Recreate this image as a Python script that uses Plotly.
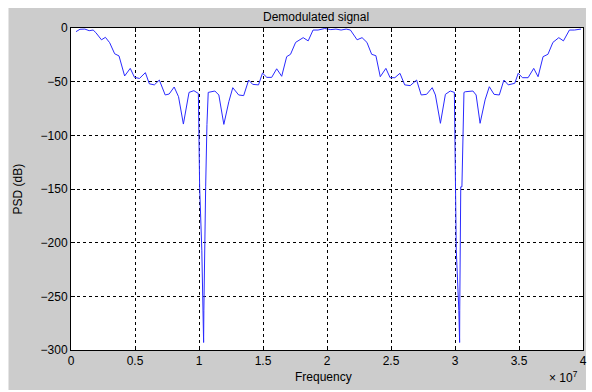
import plotly.graph_objects as go

# Frequency in MHz, PSD in dB
freq_mhz = [
    0.39, 0.70, 1.08, 1.42, 1.73, 1.94, 2.38, 2.69, 3.02, 3.41, 3.75, 4.19, 4.63, 4.96,
    5.35, 5.81, 6.12, 6.51, 6.90, 7.36, 7.67, 8.06, 8.40, 8.78, 9.22, 9.60, 9.95,
    10.05, 10.22, 10.33, 10.36, 10.38, 10.42, 10.52, 10.62, 10.68,
    10.72, 11.24, 11.55, 11.94, 12.33, 12.64, 13.10, 13.49, 13.88, 14.19, 14.65, 14.96,
    15.30, 15.68, 16.07, 16.46, 16.85, 17.15, 17.55, 18.14, 18.53, 18.91, 19.30, 19.82,
    20.30, 20.70, 21.10, 21.50, 21.83, 22.35, 22.74, 23.12, 23.49, 23.82, 24.16, 24.60,
    24.93, 25.30, 25.70, 26.07, 26.50, 27.00, 27.36, 27.78, 28.22, 28.47, 28.86, 29.25,
    29.63, 29.95,
    30.10, 30.30, 30.36, 30.37, 30.40, 30.45, 30.54, 30.62, 30.70,
    30.80, 31.40, 31.65, 31.96, 32.35, 32.68, 33.05, 33.46, 33.82, 34.16, 34.67, 34.94,
    35.27, 35.71, 36.15, 36.49, 36.88, 37.26, 37.65, 38.11, 38.47, 38.94, 39.33, 39.84,
]
psd_db = [
    -3.4, -1.2, -1.0, -2.5, -1.9, -4.3, -11.0, -8.7, -13.7, -24.0, -26.0, -44.7, -37.6, -46.0,
    -47.0, -41.6, -52.0, -53.0, -48.5, -62.4, -61.5, -55.0, -64.0, -89.5, -60.0, -58.4, -61.0,
    -148.0, -207.0, -263.0, -293.0, -263.0, -207.0, -148.0, -90.0, -60.0,
    -60.0, -58.7, -62.4, -89.8, -68.7, -55.6, -62.4, -63.0, -48.5, -52.5, -53.0, -42.0,
    -46.0, -46.0, -38.0, -45.0, -26.7, -24.5, -13.4, -9.0, -12.0, -1.9, -1.9, -0.5,
    -1.5, -1.0, -1.9, -1.0, -1.9, -11.0, -9.0, -13.4, -24.5, -25.8, -45.4, -37.6,
    -46.3, -46.3, -42.2, -53.0, -53.7, -48.5, -62.4, -61.8, -55.6, -62.4, -88.8, -61.8,
    -58.7, -60.0,
    -207.0, -263.0, -293.0, -263.0, -207.0, -148.0, -148.0, -90.0, -60.0,
    -59.4, -58.7, -62.4, -88.8, -67.0, -54.7, -61.8, -62.4, -48.5, -53.0, -51.5, -42.2,
    -46.3, -46.3, -37.6, -45.4, -26.7, -24.5, -13.4, -9.0, -12.0, -1.9, -1.9, -1.0,
]

x_ticks = [0, 0.5e7, 1e7, 1.5e7, 2e7, 2.5e7, 3e7, 3.5e7, 4e7]
x_ticktext = ["0", "0.5", "1", "1.5", "2", "2.5", "3", "3.5", "4"]
y_ticks = [0, -50, -100, -150, -200, -250, -300]

freq_hz = [f * 1e6 for f in freq_mhz]

fig = go.Figure()
fig.add_trace(go.Scatter(x=freq_hz, y=psd_db, mode="lines",
                         line=dict(color="#2a2aff", width=1), showlegend=False))

L, R, T, B = 71, 5, 28, 42
W, H = 592, 392
pw, ph = W - L - R, H - T - B

def px(x):
    return (x - L) / pw

def py(y):
    return (H - B - y) / ph

font = dict(family="Liberation Sans, Arial, sans-serif", size=12, color="black")

fig.update_layout(
    width=W, height=H,
    margin=dict(l=L, r=R, t=T, b=B),
    paper_bgcolor="white",
    plot_bgcolor="white",
    font=font,
    shapes=[
        dict(type="rect", xref="paper", yref="paper", x0=px(8), x1=px(590),
             y0=py(390), y1=py(8), fillcolor="#cccccc", line=dict(width=0), layer="below"),
        dict(type="rect", xref="paper", yref="paper", x0=0, x1=1, y0=0, y1=1,
             fillcolor="white", line=dict(width=0), layer="below"),
    ],
    annotations=[
        dict(text="Demodulated signal", xref="paper", yref="paper", x=px(318), y=py(17),
             showarrow=False, xanchor="center", yanchor="middle", font=font),
        dict(text="Frequency", xref="paper", yref="paper", x=px(325), y=py(377),
             showarrow=False, xanchor="center", yanchor="middle", font=font),
        dict(text="PSD (dB)", xref="paper", yref="paper", x=px(18), y=py(189),
             showarrow=False, xanchor="center", yanchor="middle", textangle=-90, font=font),
        dict(text="× 10<sup>7</sup>", xref="paper", yref="paper", x=px(567), y=py(377),
             showarrow=False, xanchor="center", yanchor="middle", font=font),
    ],
)

fig.update_xaxes(
    range=[0, 4e7], tickvals=x_ticks, ticktext=x_ticktext,
    showgrid=True, gridcolor="black", griddash="3px,3px", gridwidth=1,
    showline=True, linecolor="black", linewidth=1, mirror="ticks",
    ticks="inside", ticklen=4, tickcolor="black", zeroline=False,
)
fig.update_yaxes(
    range=[-300, 0], tickvals=y_ticks,
    showgrid=True, gridcolor="black", griddash="3px,3px", gridwidth=1,
    showline=True, linecolor="black", linewidth=1, mirror="ticks",
    ticks="inside", ticklen=4, tickcolor="black", zeroline=False,
)

fig.write_html("out.html")
